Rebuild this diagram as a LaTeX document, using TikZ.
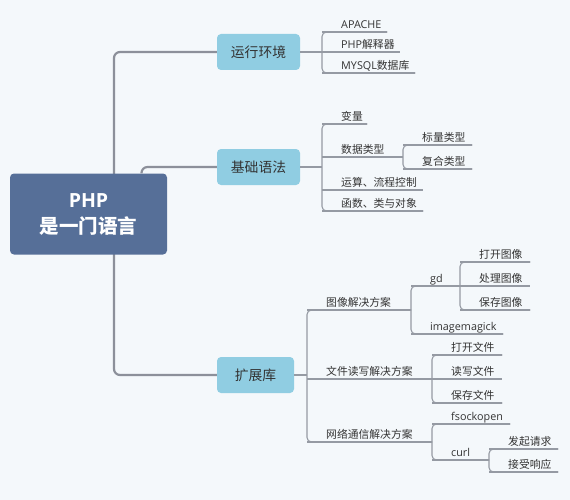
\documentclass[tikz,border=0pt]{standalone}
\usepackage{fontspec}
\setmainfont{Noto Sans CJK SC}
\newfontfamily\lat{Open Sans}
\definecolor{bgc}{HTML}{F4F8FB}
\definecolor{rootc}{HTML}{566F98}
\definecolor{topicc}{HTML}{90CDE2}
\definecolor{textc}{HTML}{333333}
\definecolor{trunkc}{HTML}{8C909A}
\definecolor{linec}{HTML}{959AA3}
\newcommand\leafpad[1]{\hspace*{19pt}#1}
\begin{document}
\begin{tikzpicture}[x=1pt,y=-1pt,
  trunk/.style={draw=trunkc, line width=2.2pt, rounded corners=6pt},
  ln/.style={draw=linec, line width=1.1pt, rounded corners=4.5pt},
  rootbox/.style={fill=rootc, rounded corners=4pt, minimum width=157pt, minimum height=81pt, text=white, font=\fontsize{19.5}{26}\selectfont\bfseries, align=center, inner sep=0pt},
  topic/.style={fill=topicc, rounded corners=4pt, minimum height=36pt, text=textc, font=\fontsize{13.8}{16}\selectfont, inner sep=0pt},
  leaf/.style={anchor=south west, inner xsep=0pt, inner ysep=0pt, text height=8pt, text depth=3pt, align=left, text=textc, font=\fontsize{10.8}{13}\selectfont},
]
\fill[bgc] (0,0) rectangle (570,500);
\useasboundingbox (0,0) rectangle (570,500);

% topics
\node[topic, minimum width=83pt] (env) at (258.5,52) {运行环境};
\node[topic, minimum width=83pt] (syn) at (258.5,167) {基础语法};
\node[topic, minimum width=77pt] (ext) at (255.5,375) {扩展库};
\coordinate (tk) at (114,214);

% trunk connectors (behind root)
\draw[trunk] (env.west) -| (tk) |- (ext.west);

% root
\node[rootbox] (root) at (88.5,214) {{\lat PHP}\\是一门语言};
\draw[trunk] ([xshift=53pt]root.north) |- (syn.west);

% leaves: 运行环境
\node[leaf, text width=65pt] (apache) at (322,32) {\leafpad{\lat APACHE}};
\node[leaf, text width=78pt] (phpint) at (322,52) {\leafpad{{\lat PHP}解释器}};
\node[leaf, text width=93pt] (mysql) at (322,73) {\leafpad{{\lat MYSQL}数据库}};

% leaves: 基础语法
\node[leaf, text width=45pt] (var) at (322,124) {\leafpad{变量}};
\node[leaf, text width=81pt] (dtype) at (322,157) {\leafpad{数据类型}};
\node[leaf, text width=69pt] (scalar) at (403,145) {\leafpad{标量类型}};
\node[leaf, text width=69pt] (compound) at (403,169) {\leafpad{复合类型}};
\node[leaf, text width=101pt] (ops) at (322,190) {\leafpad{运算、流程控制}};
\node[leaf, text width=101pt] (fun) at (322,211) {\leafpad{函数、类与对象}};

% leaves: 扩展库
\node[leaf, text width=104pt] (img) at (307,310) {\leafpad{图像解决方案}};
\node[leaf, text width=49pt] (gd) at (411,286) {\leafpad{\lat gd}};
\node[leaf, text width=92pt] (imk) at (411,334) {\leafpad{\lat imagemagick}};
\node[leaf, text width=70pt] (iopen) at (460,262) {\leafpad{打开图像}};
\node[leaf, text width=70pt] (iproc) at (460,286) {\leafpad{处理图像}};
\node[leaf, text width=70pt] (isave) at (460,310) {\leafpad{保存图像}};
\node[leaf, text width=125pt] (file) at (307,379) {\leafpad{文件读写解决方案}};
\node[leaf, text width=70pt] (fopen) at (432,355) {\leafpad{打开文件}};
\node[leaf, text width=70pt] (frw) at (432,379) {\leafpad{读写文件}};
\node[leaf, text width=70pt] (fsave) at (432,403) {\leafpad{保存文件}};
\node[leaf, text width=125pt] (net) at (307,442) {\leafpad{网络通信解决方案}};
\node[leaf, text width=78pt] (fsock) at (432,424) {\leafpad{\lat fsockopen}};
\node[leaf, text width=57pt] (curl) at (432,460) {\leafpad{\lat curl}};
\node[leaf, text width=69pt] (req) at (489,449) {\leafpad{发起请求}};
\node[leaf, text width=69pt] (resp) at (489,472) {\leafpad{接受响应}};

% underlines
\foreach \n in {apache,phpint,mysql,var,dtype,scalar,compound,ops,fun,img,gd,imk,iopen,iproc,isave,file,fopen,frw,fsave,net,fsock,curl,req,resp}
  \draw[ln] (\n.south west) -- (\n.south east);

% brackets
\draw[ln] (apache.south east) -- (apache.south west) -- (mysql.south west) -- (mysql.south east);
\draw[ln] (var.south east) -- (var.south west) -- (fun.south west) -- (fun.south east);
\draw[ln] (scalar.south east) -- (scalar.south west) -- (compound.south west) -- (compound.south east);
\draw[ln] (img.south east) -- (img.south west) -- (net.south west) -- (net.south east);
\draw[ln] (gd.south east) -- (gd.south west) -- (imk.south west) -- (imk.south east);
\draw[ln] (iopen.south east) -- (iopen.south west) -- (isave.south west) -- (isave.south east);
\draw[ln] (fopen.south east) -- (fopen.south west) -- (fsave.south west) -- (fsave.south east);
\draw[ln] (fsock.south east) -- (fsock.south west) -- (curl.south west) -- (curl.south east);
\draw[ln] (req.south east) -- (req.south west) -- (resp.south west) -- (resp.south east);

% topic to bracket connectors
\draw[ln] (env.east) -- (phpint.south west);
\draw[ln] (syn.east) -- (syn.east -| var.south west);
\draw[ln] (ext.east) -- (ext.east -| img.south west);
\end{tikzpicture}
\end{document}
